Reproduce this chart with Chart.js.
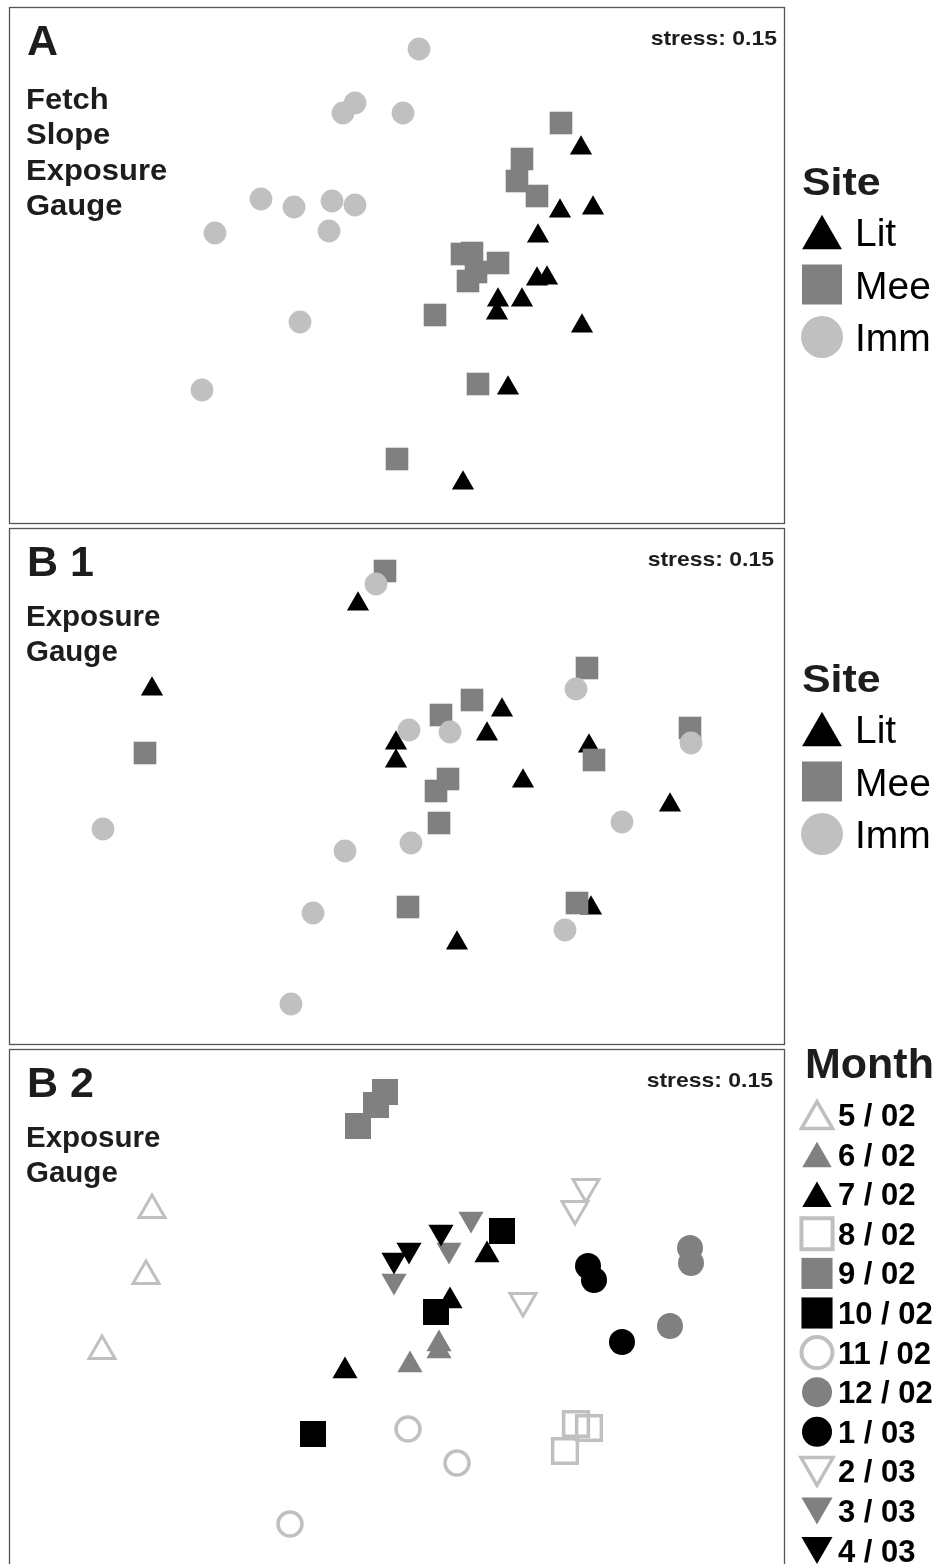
<!DOCTYPE html>
<html>
<head>
<meta charset="utf-8">
<script src="https://cdn.jsdelivr.net/npm/chart.js@4.4.1/dist/chart.umd.min.js"></script>
<style>
html, body { margin: 0; padding: 0; background: #fff; }
body { width: 941px; height: 1564px; overflow: hidden; position: relative; }
canvas { position: absolute; left: 0; display: block; }
</style>
</head>
<body>
<canvas id="chartA" width="941" height="526" style="top:0px"></canvas>
<canvas id="chartB1" width="941" height="522" style="top:526px"></canvas>
<canvas id="chartB2" width="941" height="520" style="top:1048px"></canvas>
<script>
// nMDS coordinates (x, y)
const siteNames = ['Lit', 'Mee', 'Imm'];

const A_LIT = [[1.84, 1.17], [1.63, 0.54], [1.96, 0.57], [1.41, 0.29], [1.40, -0.14], [1.50, -0.13],
               [1.01, -0.35], [1.00, -0.48], [1.25, -0.35], [1.85, -0.61], [1.11, -1.23], [0.66, -2.18]];
const A_MEE = [[1.64, 1.42], [1.25, 1.06], [1.20, 0.84], [1.40, 0.69], [0.65, 0.11], [0.75, 0.12],
               [1.01, 0.02], [0.79, -0.07], [0.71, -0.16], [0.38, -0.50], [0.81, -1.19], [0.00, -1.94]];
const A_IMM = [[0.22, 2.16], [-0.42, 1.62], [-0.54, 1.52], [0.06, 1.52], [-1.36, 0.66], [-1.03, 0.58],
               [-0.65, 0.64], [-0.42, 0.60], [-1.82, 0.32], [-0.68, 0.34], [-0.97, -0.57], [-1.95, -1.25]];

const B1_LIT = [[-0.39, 1.82], [-2.45, 0.97], [1.05, 0.76], [0.90, 0.52], [-0.01, 0.43], [-0.01, 0.25],
                [1.92, 0.40], [1.26, 0.05], [2.73, -0.19], [1.94, -1.22], [0.60, -1.57]];
const B1_MEE = [[-0.12, 2.15], [-2.52, 0.33], [1.90, 1.18], [0.75, 0.86], [0.44, 0.71], [2.93, 0.58],
                [1.97, 0.26], [0.51, 0.07], [0.39, -0.05], [0.42, -0.37], [0.11, -1.21], [1.80, -1.17]];
const B1_IMM = [[-0.21, 2.02], [-2.94, -0.43], [1.79, 0.97], [0.12, 0.56], [0.53, 0.54], [2.94, 0.43],
                [2.25, -0.36], [0.14, -0.57], [-0.52, -0.65], [-0.84, -1.27], [1.68, -1.44], [-1.06, -2.18]];

const monthLabels = ['5 / 02', '6 / 02', '7 / 02', '8 / 02', '9 / 02', '10 / 02',
                     '11 / 02', '12 / 02', '1 / 03', '2 / 03', '3 / 03', '4 / 03'];
const M_0502 = [[-2.45, 0.97], [-2.51, 0.31], [-2.95, -0.44]];
const M_0602 = [[0.42, -0.37], [0.42, -0.44], [0.13, -0.58]];
const M_0702 = [[0.90, 0.52], [0.53, 0.06], [-0.52, -0.64]];
const M_0802 = [[1.79, -1.17], [1.92, -1.21], [1.68, -1.44]];
const M_0902 = [[-0.12, 2.15], [-0.21, 2.02], [-0.39, 1.81]];
const M_1002 = [[1.05, 0.76], [0.39, -0.05], [-0.84, -1.27]];
const M_1102 = [[0.11, -1.22], [0.60, -1.56], [-1.07, -2.17]];
const M_1202 = [[2.93, 0.59], [2.94, 0.44], [2.73, -0.19]];
const M_0103 = [[1.91, 0.41], [1.97, 0.27], [2.25, -0.35]];
const M_0203 = [[1.89, 1.20], [1.78, 0.98], [1.26, 0.06]];
const M_0303 = [[0.74, 0.88], [0.52, 0.57], [-0.03, 0.26]];
const M_0403 = [[0.44, 0.75], [0.12, 0.57], [-0.03, 0.47]];
const monthPoints = [M_0502, M_0602, M_0702, M_0802, M_0902, M_1002,
                     M_1102, M_1202, M_0103, M_0203, M_0303, M_0403];

const BLACK = '#000000';
const MID = '#808080';
const LIGHT = '#c0c0c0';
const NONE = 'rgba(0,0,0,0)';
const TEXT = '#1f1c1c';
const FONT = '"Liberation Sans", Arial, sans-serif';

function toPts(arr) {
    return arr.map(p => ({ x: p[0], y: p[1] }));
}

function filled(shape, color, r, legendR, rot) {
    return { pointStyle: shape, pointRadius: r, pointBackgroundColor: color, pointBorderColor: color,
             pointBorderWidth: 0, pointRotation: rot || 0, legendRadius: legendR, legendBorderWidth: 0 };
}

function open(shape, color, r, bw, legendR, legendBw, rot) {
    return { pointStyle: shape, pointRadius: r, pointBackgroundColor: NONE, pointBorderColor: color,
             pointBorderWidth: bw, pointRotation: rot || 0, legendRadius: legendR, legendBorderWidth: legendBw };
}

function drawText(ctx, text, x, y, font, sx, align) {
    ctx.save();
    ctx.font = font;
    ctx.textAlign = align || 'left';
    ctx.textBaseline = 'alphabetic';
    ctx.translate(x, y);
    ctx.scale(sx || 1, 1);
    ctx.fillText(text, 0, 0);
    ctx.restore();
}

function drawMarker(ctx, d, x, y) {
    const r = d.legendRadius;
    const bw = d.legendBorderWidth;
    const rot = d.pointRotation || 0;
    if (d.pointStyle === 'triangle') y += (rot === 180 ? -r / 4 : r / 4);
    ctx.save();
    ctx.fillStyle = d.pointBackgroundColor;
    ctx.strokeStyle = d.pointBorderColor;
    ctx.lineWidth = bw;
    Chart.helpers.drawPoint(ctx, { pointStyle: d.pointStyle, radius: r, rotation: rot, borderWidth: bw }, x, y);
    ctx.restore();
}

const panelDecor = {
    id: 'panelDecor',
    afterDatasetsDraw(chart, args, o) {
        const { ctx, chartArea: a } = chart;
        ctx.save();
        ctx.strokeStyle = '#555';
        ctx.lineWidth = 1.3;
        ctx.strokeRect(a.left + 0.5, a.top + 0.5, a.right - a.left - 1, a.bottom - a.top - 1);

        ctx.fillStyle = TEXT;
        drawText(ctx, o.label, a.left + 18, a.top + 48, 'bold 43px ' + FONT);
        drawText(ctx, 'stress: 0.15', o.stressX, a.top + 38, 'bold 20.5px ' + FONT, 1.12, 'right');
        o.vars.forEach((v, i) => {
            drawText(ctx, v, a.left + 17, a.top + o.varsY + i * o.varsStep, 'bold 29.5px ' + FONT, o.varsSx);
        });

        const lg = o.legend;
        const ty = a.top + lg.titleY;
        drawText(ctx, lg.title, lg.titleX, ty, 'bold ' + lg.titleSize + 'px ' + FONT, lg.titleSx);
        chart.data.datasets.forEach((d, i) => {
            const cy = ty + lg.rowY + i * lg.rowStep;
            drawMarker(ctx, d, lg.markerX, cy);
            ctx.fillStyle = BLACK;
            drawText(ctx, d.label, lg.textX, cy + lg.textDy, lg.textFont);
        });
        ctx.restore();
    }
};

function makeChart(id, datasets, padding, decor) {
    return new Chart(document.getElementById(id), {
        type: 'scatter',
        data: { datasets },
        options: {
            responsive: false,
            animation: false,
            devicePixelRatio: 1,
            events: [],
            layout: { padding, autoPadding: false },
            scales: {
                x: { type: 'linear', display: false, min: -3.88, max: 3.88 },
                y: { type: 'linear', display: false, min: -2.59, max: 2.58 }
            },
            plugins: {
                legend: { display: false },
                tooltip: { enabled: false },
                panelDecor: decor
            }
        },
        plugins: [panelDecor]
    });
}

const siteStyles = [
    Object.assign(filled('triangle', BLACK, 12.8, 23), { order: 2 }),
    Object.assign(filled('rect', MID, 16, 28.3), { order: 1 }),
    Object.assign(filled('circle', LIGHT, 11.4, 21), { order: 0 })
];

function siteDatasets(series) {
    return series.map((s, i) => Object.assign({ label: siteNames[i], data: toPts(s) }, siteStyles[i]));
}

const siteLegend = {
    title: 'Site', titleX: 802, titleSize: 39, titleSx: 1.1,
    markerX: 822, rowY: 37, rowStep: 52.5, textX: 855, textDy: 14,
    textFont: '39px ' + FONT
};

makeChart('chartA', siteDatasets([A_LIT, A_MEE, A_IMM]),
    { top: 7, bottom: 2, left: 9, right: 156 },
    { label: 'A', stressX: 777, vars: ['Fetch', 'Slope', 'Exposure', 'Gauge'],
      varsY: 102, varsStep: 35.3, varsSx: 1.05,
      legend: Object.assign({ titleY: 188 }, siteLegend) });

makeChart('chartB1', siteDatasets([B1_LIT, B1_MEE, B1_IMM]),
    { top: 2, bottom: 3, left: 9, right: 156 },
    { label: 'B 1', stressX: 774, vars: ['Exposure', 'Gauge'],
      varsY: 98, varsStep: 35, varsSx: 1.0,
      legend: Object.assign({ titleY: 164 }, siteLegend) });

const monthStyles = [
    open('triangle', LIGHT, 15, 3, 18, 3.5),
    filled('triangle', MID, 14.5, 17),
    filled('triangle', BLACK, 14.5, 17),
    open('rect', LIGHT, 17.5, 3.5, 22, 4),
    filled('rect', MID, 18.4, 22),
    filled('rect', BLACK, 18.4, 22),
    open('circle', LIGHT, 12, 3.5, 15.5, 4),
    filled('circle', MID, 13, 15),
    filled('circle', BLACK, 13, 15),
    open('triangle', LIGHT, 15, 3, 18.5, 3.5, 180),
    filled('triangle', MID, 14.5, 18, 180),
    filled('triangle', BLACK, 14.5, 18, 180)
];

const monthDatasets = monthLabels.map((m, i) =>
    Object.assign({ label: m, data: toPts(monthPoints[i]), order: 11 - i }, monthStyles[i]));

makeChart('chartB2', monthDatasets,
    { top: 1, bottom: 2, left: 9, right: 156 },
    { label: 'B 2', stressX: 773, vars: ['Exposure', 'Gauge'],
      varsY: 98, varsStep: 35, varsSx: 1.0,
      legend: { title: 'Month', titleX: 805, titleSize: 43, titleSx: 1.0, titleY: 29,
                markerX: 817, rowY: 37, rowStep: 39.6, textX: 838, textDy: 11,
                textFont: 'bold 31px ' + FONT } });
</script>
</body>
</html>
